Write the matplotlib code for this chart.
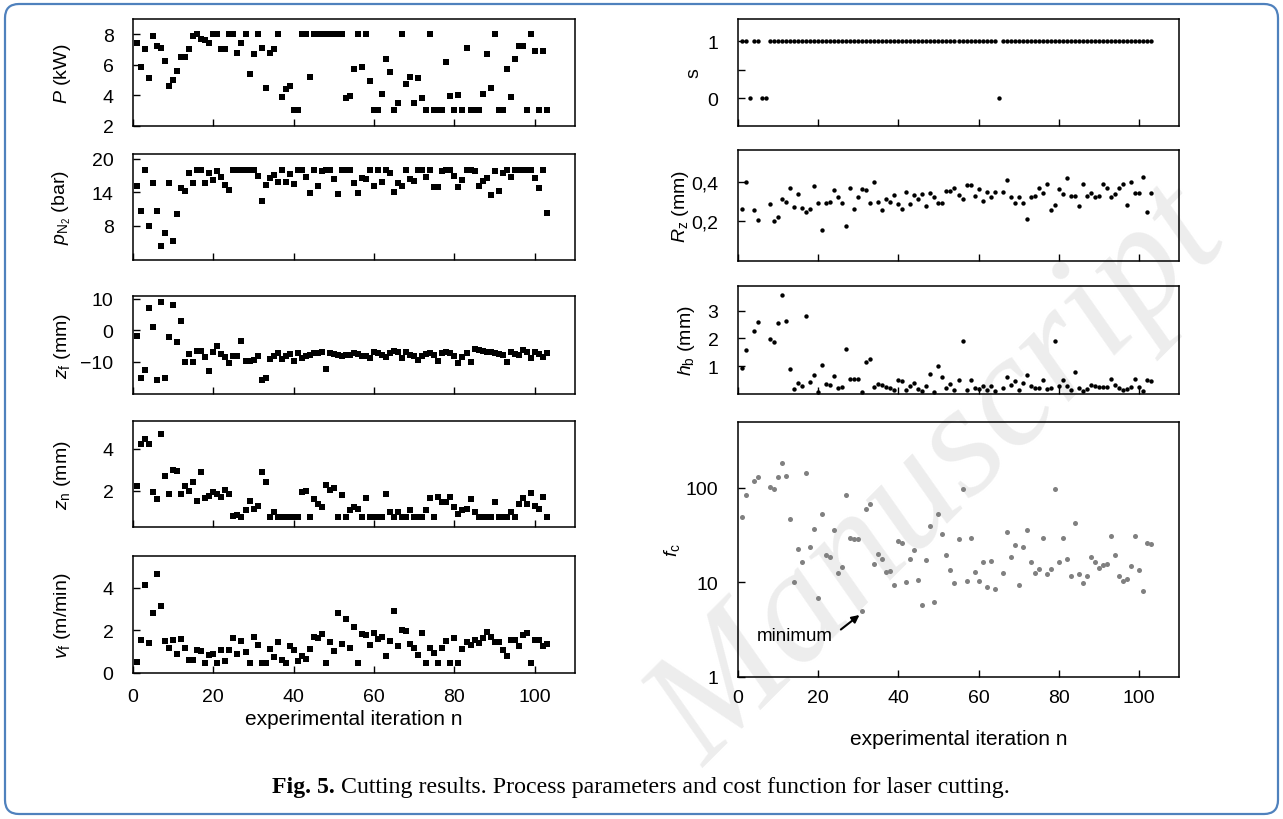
import numpy as np
import matplotlib
matplotlib.use("Agg")
import matplotlib.pyplot as plt
from matplotlib.patches import FancyBboxPatch
from matplotlib.transforms import IdentityTransform
import matplotlib.ticker as mticker

plt.rcParams['font.family'] = ['Liberation Sans', 'DejaVu Sans']
plt.rcParams['mathtext.fontset'] = 'custom'
plt.rcParams['mathtext.rm'] = 'Liberation Sans'
plt.rcParams['mathtext.it'] = 'Liberation Sans:italic'
plt.rcParams['mathtext.bf'] = 'Liberation Sans:bold'

n = np.arange(1, 104)

P_kW = [7.4, 5.87, 7.0, 5.13, 7.9, 7.2, 7.1, 6.26, 4.6, 4.98,
        5.6, 6.5, 6.5, 7.0, 7.9, 8, 7.7, 7.6, 7.4, 8,
        8, 7.0, 7.0, 8, 8, 6.8, 7.4, 8, 5.4, 6.7,
        8, 7.1, 4.45, 6.8, 7.0, 8, 3.9, 4.4, 4.6, 3,
        3, 8, 8, 5.2, 8, 8, 8, 8, 8, 8,
        8, 8, 3.85, 3.97, 5.7, 8, 5.87, 8, 4.96, 3,
        3, 4.1, 6.37, 5.5, 3, 3.5, 8, 4.75, 5.2, 3.5,
        5.1, 3.8, 3, 8, 3, 3, 3, 6.2, 3.93, 3,
        4, 3, 7.1, 3, 3, 3, 4.1, 6.7, 4.5, 8,
        3, 3, 5.7, 3.9, 6.4, 7.2, 7.2, 3, 8, 6.9,
        3, 6.9, 3]

p_N2 = [15.2, 10.7, 18, 8, 15.6, 10.7, 4.4, 6.6, 15.6, 5.3,
        10.1, 14.7, 14.2, 17.4, 15.7, 18.1, 18.1, 15.6, 17.5, 16.2,
        17.9, 16.7, 15.3, 14.5, 18, 18, 18, 18, 18, 18,
        16.9, 12.5, 15.4, 16.5, 17.2, 15.8, 18.1, 15.9, 17.3, 15.5,
        18.1, 18.1, 16.8, 13.8, 18.1, 15.2, 17.8, 18.1, 18, 16.4,
        13.7, 18.1, 18.1, 18.1, 15.7, 13.8, 16.5, 16.4, 18.1, 15.1,
        18.1, 15.8, 18.1, 17.5, 14.0, 15.7, 15.1, 18.1, 16.4, 16.1,
        18.1, 18.1, 16.7, 18.1, 14.9, 14.9, 17.8, 18.1, 18.1, 17.0,
        14.9, 16.3, 18.1, 18.1, 17.8, 15.2, 16.1, 16.6, 13.6, 17.9,
        14.2, 17.4, 18.1, 16.7, 18.1, 18.1, 18.1, 18.1, 18.1, 16.6,
        14.7, 18.1, 10.2]

z_f = [-1.7, -15.2, -12.6, 7.1, 1.0, -15.7, 9.1, -15.2, -2.0, 8.1,
       -3.6, 2.8, -10.2, -7.6, -10.0, -6.7, -6.7, -8.6, -12.9, -7.0,
       -4.9, -7.6, -8.6, -10.5, -8.1, -8.1, -3.5, -9.7, -9.7, -9.4,
       -8.1, -16.0, -15.2, -9.1, -8.3, -7.2, -9.1, -8.1, -7.6, -9.7,
       -7.2, -8.9, -8.3, -7.8, -7.2, -7.2, -7.0, -12.3, -7.2, -7.6,
       -7.9, -8.1, -7.9, -7.9, -7.2, -7.6, -8.1, -8.3, -8.9, -6.8,
       -7.2, -7.9, -8.6, -7.2, -6.7, -6.8, -8.9, -6.8, -7.9, -8.3,
       -9.4, -8.3, -7.6, -7.2, -7.9, -9.9, -7.2, -6.8, -7.2, -8.1,
       -10.4, -8.6, -7.2, -10.0, -5.9, -6.2, -6.5, -6.8, -7.0, -7.2,
       -7.6, -7.9, -10.0, -6.8, -7.6, -7.9, -6.2, -6.8, -8.9, -6.8,
       -7.6, -8.6, -7.2]

z_n = [2.24, 4.24, 4.47, 4.24, 1.95, 1.6, 4.68, 2.7, 1.87, 3.0,
       2.93, 1.87, 2.24, 2.0, 2.4, 1.5, 2.9, 1.64, 1.76, 1.95,
       1.84, 1.72, 2.05, 1.87, 0.82, 0.85, 0.75, 1.1, 1.5, 1.13,
       1.29, 2.9, 2.43, 0.75, 0.98, 0.75, 0.75, 0.75, 0.75, 0.75,
       0.75, 1.95, 1.98, 0.75, 1.6, 1.4, 1.24, 2.27, 2.03, 2.14,
       0.75, 1.8, 0.75, 1.1, 1.24, 1.16, 0.75, 1.67, 0.75, 0.75,
       0.75, 0.75, 1.87, 0.98, 0.75, 0.98, 0.75, 0.75, 1.1, 0.75,
       0.75, 0.75, 1.1, 1.64, 0.75, 1.72, 1.45, 1.45, 1.73, 1.24,
       0.88, 1.1, 1.16, 1.6, 1.02, 0.75, 0.75, 0.75, 0.75, 1.45,
       0.75, 0.75, 0.75, 0.98, 0.75, 1.4, 1.67, 1.4, 1.92, 1.26,
       1.16, 1.72, 0.75]

v_f = [0.5, 1.57, 4.12, 1.41, 2.79, 4.64, 3.13, 1.49, 1.16, 1.54,
       0.91, 1.61, 1.19, 0.6, 0.6, 1.1, 1.02, 0.47, 0.86, 0.91,
       0.47, 1.1, 0.55, 1.07, 1.63, 0.91, 1.49, 0.97, 0.47, 1.71,
       1.33, 0.47, 0.47, 1.14, 0.74, 1.44, 0.6, 0.47, 1.25, 1.1,
       0.55, 0.82, 0.67, 1.13, 1.71, 1.66, 1.85, 0.47, 1.44, 1.02,
       2.79, 1.36, 2.51, 1.16, 2.18, 0.47, 1.85, 1.76, 1.3, 1.88,
       1.6, 1.68, 0.78, 1.49, 2.93, 1.25, 2.0, 1.96, 1.36, 1.19,
       0.83, 1.87, 0.47, 1.16, 0.92, 0.47, 1.16, 1.49, 0.47, 1.63,
       0.47, 1.13, 1.46, 1.33, 1.57, 1.41, 1.63, 1.91, 1.69, 1.46,
       1.46, 1.1, 0.78, 1.54, 1.54, 1.25, 1.76, 1.88, 0.47, 1.57,
       1.54, 1.25, 1.36]

s_ok = [1, 1, 0, 1, 1, 0, 0] + [1] * 57 + [0] + [1] * 38

nan = np.nan
R_z = [0.26, 0.40, nan, 0.256, 0.205, nan, nan, 0.285, 0.20, 0.22,
       0.31, 0.297, 0.37, 0.27, 0.336, 0.268, 0.247, 0.26, 0.378, 0.29,
       0.153, 0.293, 0.298, 0.36, 0.322, 0.29, 0.178, 0.368, 0.263, 0.322,
       0.364, 0.356, 0.29, 0.40, 0.297, 0.254, 0.31, 0.297, 0.33, 0.288,
       0.26, 0.35, 0.285, 0.33, 0.31, 0.336, 0.276, 0.34, 0.32, 0.293,
       0.293, 0.354, 0.354, 0.37, 0.332, 0.313, 0.383, 0.383, 0.327, 0.364,
       0.302, 0.347, 0.32, 0.35, nan, 0.347, 0.408, 0.32, 0.293, 0.324,
       0.29, 0.212, 0.32, 0.327, 0.366, 0.34, 0.39, 0.256, 0.28, 0.364,
       0.336, 0.42, 0.327, 0.327, 0.275, 0.39, 0.327, 0.34, 0.324, 0.327,
       0.386, 0.37, 0.324, 0.336, 0.37, 0.39, 0.28, 0.40, 0.34, 0.34,
       0.425, 0.247, 0.344]

h_b = [0.93, 1.59, nan, 2.28, 2.6, nan, nan, 1.98, 1.88, 2.55,
       3.56, 2.61, 0.9, 0.18, 0.4, 0.3, 2.81, 0.42, 0.68, 0.08,
       1.04, 0.36, 0.34, 0.65, 0.22, 0.25, 1.62, 0.54, 0.54, 0.54,
       0.06, 1.14, 1.26, 0.24, 0.36, 0.32, 0.24, 0.22, 0.16, 0.5,
       0.48, 0.16, 0.3, 0.38, 0.18, 0.1, 0.3, 0.73, 0.08, 0.99,
       0.62, 0.22, 0.35, 0.14, 0.51, 1.89, 0.14, 0.51, 0.22, 0.18,
       0.28, 0.14, 0.28, 0.12, nan, 0.2, 0.62, 0.32, 0.46, 0.14,
       0.41, 0.68, 0.28, 0.22, 0.22, 0.51, 0.18, 0.22, 1.9, 0.28,
       0.51, 0.28, 0.14, 0.78, 0.2, 0.12, 0.18, 0.32, 0.28, 0.24,
       0.24, 0.24, 0.54, 0.32, 0.2, 0.14, 0.18, 0.24, 0.54, 0.24,
       0.12, 0.5, 0.48]

f_c = [49, 84, nan, 118, 131, nan, nan, 101, 96, 130,
       182, 133, 47, 10, 22.4, 16.2, 144, 23.6, 37, 6.8,
       53, 19.3, 18.5, 35.4, 12.6, 14.6, 83, 29.5, 28.4, 28.9,
       4.9, 60, 67, 15.5, 20, 17.5, 12.9, 13, 9.4, 27,
       26.3, 10, 17.8, 22, 10.6, 5.8, 17.2, 39, 6.25, 53,
       32.7, 19.3, 13.5, 9.8, 28.4, 98, 10.2, 29.2, 12.9, 10.2,
       16.2, 9.0, 16.6, 8.4, nan, 12.4, 34.3, 18.4, 24.8, 9.3,
       23.6, 35.7, 16.5, 12.6, 13.7, 29.5, 12.2, 13.7, 98, 16.5,
       29.4, 17.5, 11.7, 42, 12.2, 9.8, 11.5, 18.4, 16.2, 14.3,
       15.2, 15.5, 30.9, 19.3, 11.7, 10.3, 10.7, 14.9, 30.9, 13.6,
       8.1, 26.3, 25.2]

x_ticks = [0, 20, 40, 60, 80, 100]
xlabel = "experimental iteration n"
caption_bold = "Fig. 5."
caption_rest = "Cutting results. Process parameters and cost function for laser cutting."
watermark = "Manuscript"

W, H = 1283, 820
fig = plt.figure(figsize=(W / 100, H / 100), dpi=100)

FS = 14

def ax_px(x0, y_top, x1, y_bot):
    ax = fig.add_axes([x0 / W, 1 - y_bot / H, (x1 - x0) / W, (y_bot - y_top) / H])
    ax.patch.set_alpha(0)
    return ax

def style(ax, show_xlabels=False, xpad=11, labelpad=3):
    ax.set_xlim(0, 110)
    ax.set_xticks(x_ticks)
    ax.tick_params(direction='in', length=5, width=1.0, labelsize=FS, pad=14)
    ax.tick_params(axis='x', pad=xpad)
    if not show_xlabels:
        ax.set_xticklabels([])
    else:
        ax.set_xlabel(xlabel, fontsize=15, labelpad=labelpad)
    for sp in ax.spines.values():
        sp.set_linewidth(1.1)
    ax.minorticks_off()

LX0, LX1 = 133, 575
RX0, RX1 = 738, 1179
SQ = dict(marker='s', s=15, c='black', linewidths=0)
DOT = dict(marker='o', s=10, c='black', linewidths=0)

left_rows = [
    (20, 126.7, P_kW, r'$P$ (kW)', (2, 9), [2, 4, 6, 8]),
    (155, 261, p_N2, r'$p_{\mathrm{N_2}}$ (bar)', (1.8, 20.9), [8, 14, 20]),
    (296.7, 395, z_f, r'$z_\mathrm{f}$ (mm)', (-20.3, 11), [-10, 0, 10]),
    (422.3, 527.7, z_n, r'$z_\mathrm{n}$ (mm)', (0.3, 5.3), [2, 4]),
    (556.7, 674, v_f, r'$v_\mathrm{f}$ (m/min)', (0, 5.5), [0, 2, 4]),
]
for i, (yt, yb, vals, lab, yl, yt_) in enumerate(left_rows):
    ax = ax_px(LX0, yt, LX1, yb)
    ax.scatter(n, vals, **SQ)
    ax.set_ylim(*yl)
    ax.set_yticks(yt_)
    style(ax, show_xlabels=(i == 4), xpad=11, labelpad=3)
    ax.set_ylabel(lab, fontsize=FS)
    ax.yaxis.set_label_coords((73 - LX0) / (LX1 - LX0), 0.5)

def rlab(ax, text, right_px):
    ax.set_ylabel(text, fontsize=FS)
    ax.yaxis.set_label_coords((right_px - RX0) / (RX1 - RX0), 0.5)

# s
ax = ax_px(RX0, 20, RX1, 126.7)
ax.scatter(n, s_ok, **DOT)
ax.set_ylim(-0.48, 1.39)
ax.set_yticks([0, 0.5, 1])
ax.set_yticklabels(['0', '', '1'])
style(ax)
rlab(ax, 's', 702)

# Rz
ax = ax_px(RX0, 151, RX1, 261.7)
ax.scatter(n, R_z, **DOT)
ax.set_ylim(0, 0.56)
ax.set_yticks([0.2, 0.4])
ax.set_yticklabels(['0,2', '0,4'])
style(ax)
rlab(ax, r'$R_\mathrm{z}$ (mm)', 691)

# hb
ax = ax_px(RX0, 287.3, RX1, 395)
ax.scatter(n, h_b, **DOT)
ax.set_ylim(0, 3.87)
ax.set_yticks([1, 2, 3])
style(ax)
rlab(ax, r'$h_\mathrm{b}$ (mm)', 697)

# fc
ax = ax_px(RX0, 422.7, RX1, 677.7)
ax.scatter(n, f_c, marker='o', s=13, c='#808080', linewidths=0)
ax.set_yscale('log')
ax.set_ylim(1, 500)
ax.set_yticks([1, 10, 100])
ax.yaxis.set_major_formatter(mticker.FixedFormatter(['1', '10', '100']))
style(ax, show_xlabels=True, xpad=9, labelpad=16.5)
ax.minorticks_off()
rlab(ax, r'$f_\mathrm{c}$', 682)
ax.annotate('minimum', xy=(30.3, 4.5), xytext=(23.6, 2.7), fontsize=FS - 0.5,
            ha='right', va='center',
            arrowprops=dict(arrowstyle='-|>', color='black', lw=1.5,
                            mutation_scale=11, shrinkA=5, shrinkB=0,
                            relpos=(1.0, 0.5)))

# watermark (faint, behind the data), kept inside the figure
fig.text(940 / W, 1 - 478 / H, watermark, rotation=45, rotation_mode='anchor',
         ha='center', va='center', fontsize=116, style='italic',
         family='Liberation Serif', color='#ededed', zorder=-1)

# border
border = FancyBboxPatch((5, 5), W - 10, H - 10,
                        boxstyle='round,pad=0,rounding_size=14',
                        transform=IdentityTransform(), fill=False,
                        edgecolor='#4f81bd', linewidth=1.6)
fig.patches.append(border)

# caption: bold "Fig. 5." followed by regular text, centred as a whole
cap_y = 1 - 788 / H
t1 = fig.text(0, cap_y, caption_bold, ha='left', va='center', fontsize=17.2,
              family='Liberation Serif', weight='bold')
t2 = fig.text(0, cap_y, " " + caption_rest, ha='left', va='center', fontsize=17.2,
              family='Liberation Serif')
r = fig.canvas.get_renderer()
w1 = t1.get_window_extent(r).width
w2 = t2.get_window_extent(r).width
x_start = (641 - (w1 + w2) / 2) / W
t1.set_x(x_start)
t2.set_x(x_start + w1 / W)

fig.savefig('out.png', dpi=100)
